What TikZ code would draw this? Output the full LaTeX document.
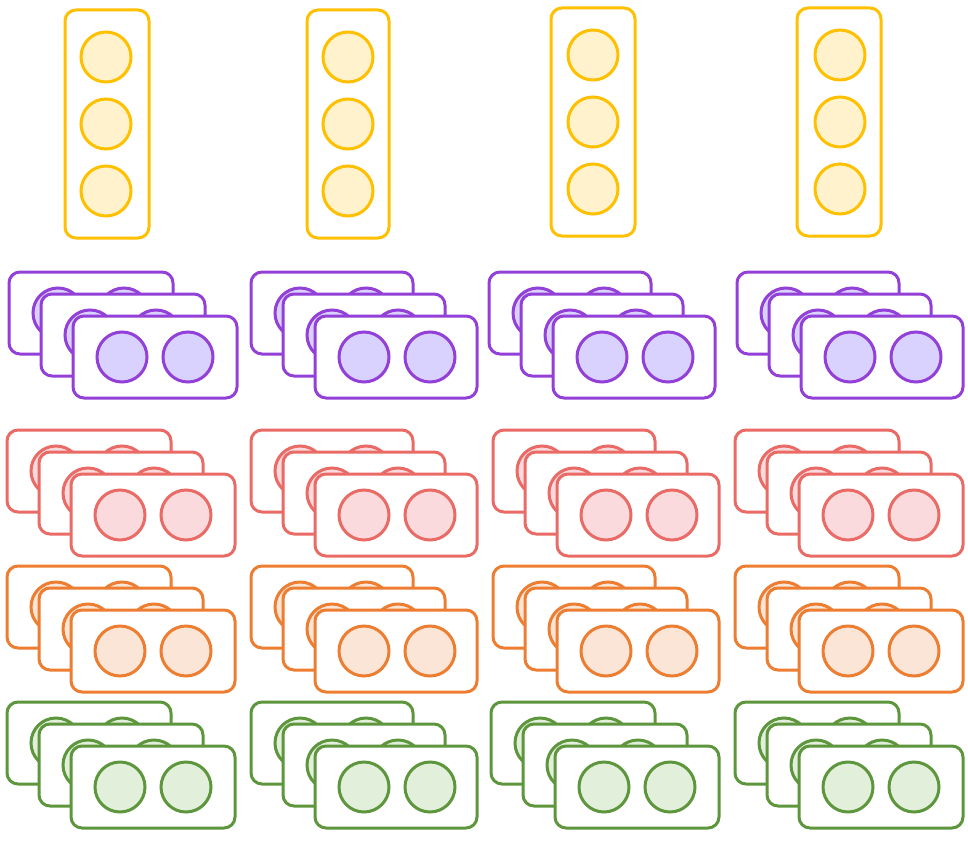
\documentclass[tikz,border=0pt]{standalone}
\usetikzlibrary{calc}
\definecolor{ylS}{HTML}{FFC000}\definecolor{ylF}{HTML}{FFF2CC}
\definecolor{puS}{HTML}{9340D8}\definecolor{puF}{HTML}{D9D2FF}
\definecolor{reS}{HTML}{EA6B66}\definecolor{reF}{HTML}{FADADD}
\definecolor{orS}{HTML}{ED7D31}\definecolor{orF}{HTML}{FBE5D6}
\definecolor{grS}{HTML}{5D963C}\definecolor{grF}{HTML}{E2EFDA}
\tikzset{
  card/.style={draw=#1S, fill=white, line width=3pt, rounded corners=11pt},
  dot/.style={draw=#1S, fill=#1F, line width=3pt, circle, minimum size=50pt, inner sep=0pt},
  pics/onecard/.style args={#1/#2/#3}{code={
    \draw[card=#1] (0,0) rectangle (#3,82);
    \node[dot=#1] (#2-a) at (49,41) {};
    \node[dot=#1] (#2-b) at (115,41) {};
  }},
  pics/cardstack/.style args={#1/#2/#3}{code={
    \pic at (0,0) {onecard={#1/#2-back/#3}};
    \pic at (32,22) {onecard={#1/#2-mid/#3}};
    \pic at (64,44) {onecard={#1/#2-front/#3}};
  }},
  pics/lamp/.style args={#1/#2/#3}{code={
    \draw[card=yl] (0,0) rectangle (#1,228);
    \node[dot=yl] (#3-1) at (#2,47) {};
    \node[dot=yl] (#3-2) at (#2,114) {};
    \node[dot=yl] (#3-3) at (#2,181) {};
  }}
}
\begin{document}
\begin{tikzpicture}[x=1pt,y=-1pt]
\useasboundingbox (0,0) rectangle (968,848);
% yellow lamps
\pic at (65,10) {lamp={84/41/y1}};
\pic at (307,10) {lamp={82/41/y2}};
\pic at (551,8) {lamp={84/42/y3}};
\pic at (797,8) {lamp={84/43/y4}};
% purple
\pic at (9,272) {cardstack={pu/p1/164}};
\pic at (251,272) {cardstack={pu/p2/162}};
\pic at (489,272) {cardstack={pu/p3/162}};
\pic at (737,272) {cardstack={pu/p4/162}};
% red
\pic at (7,430) {cardstack={re/r1/164}};
\pic at (251,430) {cardstack={re/r2/162}};
\pic at (493,430) {cardstack={re/r3/162}};
\pic at (735,430) {cardstack={re/r4/164}};
% orange
\pic at (7,566) {cardstack={or/o1/164}};
\pic at (251,566) {cardstack={or/o2/162}};
\pic at (493,566) {cardstack={or/o3/162}};
\pic at (735,566) {cardstack={or/o4/164}};
% green
\pic at (7,702) {cardstack={gr/g1/164}};
\pic at (251,702) {cardstack={gr/g2/162}};
\pic at (491,702) {cardstack={gr/g3/164}};
\pic at (735,702) {cardstack={gr/g4/164}};
\end{tikzpicture}
\end{document}
